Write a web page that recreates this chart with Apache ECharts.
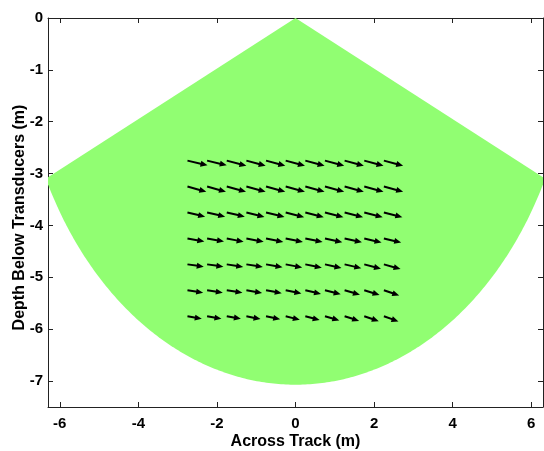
<!DOCTYPE html>
<html><head><meta charset="utf-8">
<script src="https://cdn.jsdelivr.net/npm/echarts@6/dist/echarts.min.js"></script>
<style>html,body{margin:0;padding:0;background:#fff}#c{width:544px;height:451px}</style>
</head><body><div id="c"></div>
<script>
// Axis ticks
const xTicks = [-6, -4, -2, 0, 2, 4, 6];
const yTicks = [-7, -6, -5, -4, -3, -2, -1, 0];
// Beam fan (sector)
const fanApex = [0, 0];
const fanRadius = [7.07];
const fanHalfAngleDeg = [64];
// Arrow tail positions
const arrowX = [-2.75, -2.25, -1.75, -1.25, -0.75, -0.25, 0.25, 0.75, 1.25, 1.75, 2.25];
const arrowY = [-2.75, -3.25, -3.75, -4.25, -4.75, -5.25, -5.75];
// Arrow components per row
const arrowU = [
  [0.51, 0.50, 0.50, 0.49, 0.49, 0.49, 0.49, 0.49, 0.49, 0.49, 0.49],
  [0.48, 0.48, 0.49, 0.49, 0.49, 0.49, 0.49, 0.49, 0.49, 0.49, 0.49],
  [0.45, 0.46, 0.46, 0.46, 0.47, 0.47, 0.47, 0.47, 0.47, 0.47, 0.47],
  [0.43, 0.43, 0.43, 0.44, 0.44, 0.44, 0.44, 0.44, 0.44, 0.44, 0.44],
  [0.415, 0.415, 0.42, 0.42, 0.42, 0.42, 0.42, 0.42, 0.425, 0.425, 0.425],
  [0.40, 0.40, 0.40, 0.40, 0.40, 0.40, 0.40, 0.40, 0.39, 0.39, 0.39],
  [0.365, 0.365, 0.36, 0.36, 0.36, 0.36, 0.365, 0.365, 0.37, 0.37, 0.37]
];
const arrowV = [
  [-0.09, -0.09, -0.10, -0.10, -0.10, -0.10, -0.10, -0.10, -0.10, -0.10, -0.10],
  [-0.10, -0.10, -0.10, -0.10, -0.10, -0.10, -0.10, -0.10, -0.10, -0.10, -0.10],
  [-0.08, -0.08, -0.08, -0.085, -0.085, -0.09, -0.09, -0.09, -0.09, -0.09, -0.09],
  [-0.06, -0.06, -0.065, -0.065, -0.07, -0.07, -0.07, -0.075, -0.075, -0.08, -0.08],
  [-0.045, -0.045, -0.05, -0.05, -0.055, -0.06, -0.065, -0.07, -0.075, -0.085, -0.09],
  [-0.045, -0.045, -0.045, -0.05, -0.055, -0.06, -0.07, -0.075, -0.085, -0.09, -0.10],
  [-0.05, -0.05, -0.05, -0.055, -0.06, -0.07, -0.075, -0.08, -0.09, -0.095, -0.10]
];

const arrowData = [];
arrowY.forEach((y, r) => arrowX.forEach((x, c) => arrowData.push([x, y, arrowU[r][c], arrowV[r][c]])));

const FONT = "'Liberation Sans', Arial, sans-serif";
const AX = '#222';

function axisCommon(extra) {
  return Object.assign({
    axisLine: { show: true, onZero: false, lineStyle: { color: AX, width: 1 } },
    axisTick: { show: true, inside: true, length: 5, lineStyle: { color: AX } },
    splitLine: { show: false }
  }, extra);
}

const chart = echarts.init(document.getElementById('c'), null, { renderer: 'canvas' });
chart.setOption({
  animation: false,
  backgroundColor: '#fff',
  grid: { left: 48, right: 1, top: 18, bottom: 44, containLabel: false, outerBoundsMode: 'none' },
  xAxis: [
    axisCommon({
      type: 'value', min: -6.3, max: 6.3, position: 'bottom',
      axisTick: { show: true, inside: true, length: 5, lineStyle: { color: AX }, customValues: xTicks },
      axisLabel: { customValues: xTicks, fontFamily: FONT, fontWeight: 'bold', fontSize: 15, color: '#000', margin: 9 },
      name: 'Across Track (m)', nameLocation: 'middle', nameGap: 27, nameMoveOverlap: false,
      nameTextStyle: { fontFamily: FONT, fontWeight: 'bold', fontSize: 16, color: '#000' }
    }),
    axisCommon({
      type: 'value', min: -6.3, max: 6.3, position: 'top',
      axisTick: { show: true, inside: true, length: 5, lineStyle: { color: AX }, customValues: xTicks },
      axisLabel: { show: false, customValues: xTicks }
    })
  ],
  yAxis: [
    axisCommon({
      type: 'value', min: -7.5, max: 0, position: 'left',
      axisTick: { show: true, inside: true, length: 5, lineStyle: { color: AX }, customValues: yTicks },
      axisLabel: { customValues: yTicks, fontFamily: FONT, fontWeight: 'bold', fontSize: 15, color: '#000', margin: 5 },
      name: 'Depth Below Transducers (m)', nameLocation: 'middle', nameGap: 20, nameRotate: 90, nameMoveOverlap: false,
      nameTextStyle: { fontFamily: FONT, fontWeight: 'bold', fontSize: 16, color: '#000', padding: [0, 10, 0, 0] }
    }),
    axisCommon({
      type: 'value', min: -7.5, max: 0, position: 'right',
      axisTick: { show: true, inside: true, length: 5, lineStyle: { color: AX }, customValues: yTicks },
      axisLabel: { show: false, customValues: yTicks }
    })
  ],
  series: [
    {
      type: 'custom', clip: true, xAxisIndex: 0, yAxisIndex: 0, z: 1,
      data: [[fanApex[0], fanApex[1], fanRadius[0], fanHalfAngleDeg[0]]],
      renderItem: function (params, api) {
        const cx = api.value(0), cy = api.value(1), R = api.value(2), ha = api.value(3);
        const pts = [api.coord([cx, cy])];
        for (let a = -ha; a <= ha + 1e-9; a += 0.5) {
          const t = a * Math.PI / 180;
          pts.push(api.coord([cx + R * Math.sin(t), cy - R * Math.cos(t)]));
        }
        return { type: 'polygon', shape: { points: pts }, style: { fill: '#91fe72', stroke: null } };
      }
    },
    {
      type: 'custom', clip: true, xAxisIndex: 0, yAxisIndex: 0, z: 2,
      data: arrowData,
      renderItem: function (params, api) {
        const x = api.value(0), y = api.value(1), u = api.value(2), v = api.value(3);
        const p0 = api.coord([x, y]);
        const p1 = api.coord([x + u, y + v]);
        const dx = p1[0] - p0[0], dy = p1[1] - p0[1];
        const L = Math.sqrt(dx * dx + dy * dy);
        const ux = dx / L, uy = dy / L, nx = -uy, ny = ux;
        const hl = 7, hw = 3;
        const b = [p1[0] - ux * hl, p1[1] - uy * hl];
        return {
          type: 'group',
          children: [
            { type: 'line', shape: { x1: p0[0], y1: p0[1], x2: b[0] + ux * 1, y2: b[1] + uy * 1 }, style: { stroke: '#000', lineWidth: 2 } },
            { type: 'polygon', shape: { points: [p1, [b[0] + nx * hw, b[1] + ny * hw], [b[0] - nx * hw, b[1] - ny * hw]] }, style: { fill: '#000' } }
          ]
        };
      }
    }
  ]
});
</script>
</body></html>
